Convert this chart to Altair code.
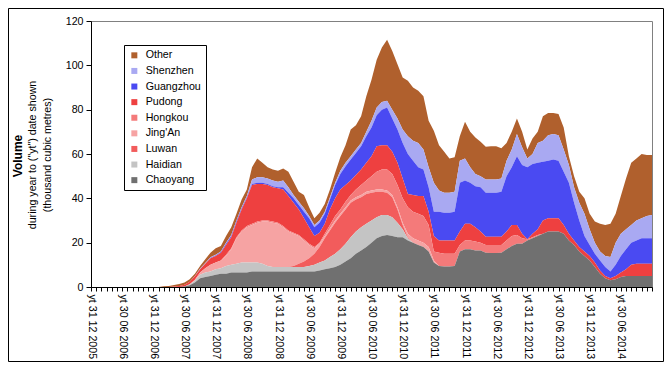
import altair as alt
import pandas as pd

# month index 0 = Dec 2005 ... 108 = Dec 2014
months = list(range(109))

x_labels = ["yt 31 12 2005", "yt 30 06 2006", "yt 31 12 2006", "yt 30 06 2007",
            "yt 31 12 2007", "yt 30 06 2008", "yt 31 12 2008", "yt 30 06 2009",
            "yt 31 12 2009", "yt 30 06 2010", "yt 31 12 2010", "yt 30 06 2011",
            "yt 31 12 2011", "yt 30 06 2012", "yt 31 12 2012", "yt 30 06 2013",
            "yt 31 12 2013", "yt 30 06 2014"]
y_ticks = [0, 20, 40, 60, 80, 100, 120]

Z14 = [0, 0, 0, 0, 0, 0, 0, 0, 0, 0, 0, 0, 0, 0]

chaoyang = Z14 + [
    0, 0, 0, 0, 0.2, 0.8, 2.0, 4.0, 4.5, 5,
    5.5, 6, 6, 6.5, 6.5, 6.5, 6.5, 7, 7, 7,
    7, 7, 7, 7, 7, 7, 7, 7, 7, 7,
    7.5, 8, 8.5, 9, 10, 11.5, 13, 15, 16.5, 18,
    20, 22, 23, 23.5, 23, 22.5, 22.5, 21, 20, 19,
    18, 16, 11, 9.5, 9.2, 9.2, 9.5, 16, 17, 17,
    16.5, 16.5, 15.5, 15.3, 15.3, 15.5, 17, 18.5, 19.5, 19.5,
    21, 22, 23, 24, 25, 25, 25, 24, 21, 19,
    16, 14, 12, 9, 6, 4, 3, 3.5, 4.5, 5,
    5, 5, 5, 5, 5]

haidian = Z14 + [
    0, 0, 0, 0, 0, 0.4, 0.8, 1.5, 2, 2,
    2.5, 2.5, 3.5, 3.5, 4, 4.5, 4.5, 4, 4, 3.5,
    2.5, 2, 2, 2, 2, 2, 2, 2, 2.5, 3,
    3.5, 4, 5, 6, 7, 8, 9.5, 10, 10.5, 10.5,
    10, 9.5, 9.5, 9, 8.5, 6.5, 3.5, 1, 0, 0,
    0, 0, 0, 0, 0, 0, 0, 0, 0, 0,
    0, 0, 0, 0, 0, 0, 0, 0, 0, 0,
    0, 0, 0, 0, 0, 0, 0, 0, 0, 0,
    0, 0, 0, 0, 0, 0, 0, 0, 0, 0,
    0, 0, 0, 0, 0]

luwan = Z14 + [
    0, 0, 0, 0, 0, 0, 0, 0, 0, 0,
    0, 0, 0, 0, 0, 0, 0, 0, 0, 0,
    0, 0, 0, 0, 0, 0.5, 1.5, 2.5, 3.5, 5,
    7, 10, 12, 14, 15, 15.5, 15.5, 14.5, 13.5, 13.5,
    12.5, 11.5, 10.5, 10, 9, 6, 2, 0.5, 0, 0,
    0, 0, 0, 0, 0, 0, 0, 0, 0, 0,
    0, 0, 0, 0, 0, 0, 0, 0, 0, 0,
    0, 0, 0, 0, 0, 0, 0, 0, 0, 0,
    0, 0, 0, 0, 0, 0, 0, 0, 0, 0,
    0, 0, 0, 0, 0]

jingan = Z14 + [
    0, 0, 0, 0, 0, 0, 0.5, 1, 2, 3,
    3, 3.5, 4.5, 7, 11.5, 14, 16, 17, 18, 19,
    20, 20, 19.5, 18, 16, 14.5, 12.5, 9.5, 6, 2.5,
    1.5, 1, 1, 1, 1, 1, 1, 1, 1, 1,
    1, 1, 1, 1, 1, 1, 1, 1.5, 2, 2,
    2, 2, 1, 0, 0, 0, 0, 0, 0, 0,
    0, 0, 0, 0, 0, 0, 0, 0, 0, 0,
    0, 0, 0, 0, 0, 0, 0, 0, 0, 0,
    0, 0, 0, 0, 0, 0, 0, 0, 0, 0,
    0, 0, 0, 0, 0]

hongkou = Z14 + [
    0, 0, 0, 0, 0, 0, 0, 0, 0, 0,
    0, 0, 0.5, 0.5, 0.5, 0.5, 0.5, 0.5, 0.5, 0.5,
    0.5, 0.5, 0.5, 0.5, 0.5, 0.5, 0.5, 0.5, 0.5, 0.5,
    0.5, 1, 1.5, 2, 2, 2.5, 2.5, 3.5, 4.5, 5,
    6.5, 8, 9, 9.5, 9.5, 10, 11, 12, 12, 12,
    12, 10, 4, 6, 5.8, 5.8, 5.5, 3, 4, 4,
    4, 3.5, 3.5, 3.7, 3.7, 3.5, 4, 4.5, 4, 2.5,
    0.5, 0.5, 0.5, 0, 0, 0, 0, 0, 0, 0,
    0, 0, 0, 0, 0, 0, 0, 0, 0, 0,
    0, 0, 0, 0, 0]

pudong = Z14 + [
    0, 0, 0.2, 0.5, 0.8, 1.2, 1.5, 1.5, 2, 3,
    3, 3.5, 4.5, 5, 6.5, 9.5, 12.5, 17.5, 17, 16.5,
    16, 15.5, 15.5, 16.5, 15.5, 13.5, 11.5, 9.5, 7.5, 5,
    4.5, 4.5, 7, 8, 9, 7.5, 6.5, 6.5, 7, 8,
    9, 11.5, 11, 11, 10, 10, 9, 6, 7.5, 8,
    9, 6, 7, 5.5, 6, 6, 6, 6, 7.5, 7.5,
    6.5, 5, 3.7, 3.7, 3.7, 3.7, 4, 5, 4.5, 2,
    0, 1.5, 2.5, 6, 6, 6, 6, 4, 3, 2,
    2, 2, 2, 2, 1.5, 1, 1, 1.5, 2, 3,
    5, 5.5, 5.5, 5.5, 5.5]

guangzhou = Z14 + [
    0, 0, 0, 0, 0, 0, 0, 0, 0, 0.2,
    0.2, 0.3, 0.5, 0.5, 0.7, 0.5, 0.5, 0.5, 0.5, 0.5,
    0.5, 0.5, 0.5, 1, 1.5, 2, 2, 3, 4, 4,
    4.5, 4.5, 4.5, 6, 7, 8.5, 9.5, 10, 10.5, 12,
    13, 14, 16, 17, 15, 15, 16, 18, 15.5, 13,
    12, 11, 11, 13, 12.5, 12.5, 13, 22, 19.5, 18.5,
    18.5, 20, 19.8, 19.8, 19.8, 20.3, 25, 26, 31, 31,
    32.5, 31.5, 30, 26.5, 26, 26.5, 26, 24, 23, 17,
    12, 7, 5, 4, 4.5, 4, 3, 5, 7.5, 9,
    10, 10.5, 11.5, 11.5, 11.5]

shenzhen = Z14 + [
    0, 0, 0, 0, 0, 0, 0.2, 0.3, 0.3, 0.2,
    0.3, 0.2, 0.5, 0.5, 0.3, 0.5, 0.5, 2, 2.5, 2.5,
    2.5, 2.5, 2.5, 3, 2.5, 1.5, 1.5, 1.5, 1, 1,
    1, 1, 1, 1, 1.5, 1.5, 1.5, 1.5, 1.5, 2,
    3, 3.5, 3.5, 3, 4, 5, 6, 8, 9, 11,
    9, 9, 13, 9.5, 9, 9, 9, 10, 10, 7,
    5.5, 5, 6, 6, 6, 6, 7, 8, 10, 8,
    4, 4.5, 9, 9.5, 11.5, 11.5, 11.5, 10, 8, 7,
    8, 10, 7, 5, 4, 5, 6.5, 10, 10, 9,
    8, 9, 9, 10, 10.5]

other = Z14 + [
    0.3, 0.5, 0.7, 0.8, 1.0, 1.1, 1.0, 1.2, 1.7, 2.1,
    3, 2.5, 3, 3.5, 3, 3.5, 3, 5.5, 8.5, 6.5,
    5, 5, 5, 5.5, 7, 6, 4.5, 6, 4, 3,
    3.5, 3.5, 3.5, 4.5, 6, 8, 12, 11, 12, 16,
    18.5, 21.5, 24.5, 27.5, 26.5, 24.5, 23.5, 25, 24, 23.5,
    24, 21, 23.5, 20.5, 18.5, 15.5, 15.5, 11, 16.5, 16,
    16.5, 15.5, 14.8, 15, 15, 13.6, 8, 8, 7, 7,
    4, 7, 5, 11, 10, 9.5, 9.5, 10, 4, 5,
    5, 7, 7, 9.5, 12.5, 14, 15, 13, 17, 23,
    28, 28, 29, 27.5, 27]

# legend order (top to bottom); stacking is the reverse (Chaoyang at the bottom)
series_names = ["Other", "Shenzhen", "Guangzhou", "Pudong", "Hongkou",
                "Jing'An", "Luwan", "Haidian", "Chaoyang"]
series_values = [other, shenzhen, guangzhou, pudong, hongkou,
                 jingan, luwan, haidian, chaoyang]
series_colors = ["#b0602d", "#a9a9f2", "#4a4af2", "#ee4040", "#f47a7a",
                 "#f6a3a3", "#f25c5c", "#c4c4c4", "#707070"]

rows = []
for k, (name, vals) in enumerate(zip(series_names, series_values)):
    for m, v in zip(months, vals):
        rows.append({"m": m, "series": name, "v": v, "rank": len(series_names) - 1 - k})
df = pd.DataFrame(rows)

label_expr = ("datum.value % 6 == 0 && datum.value < 108 ? "
              + "[" + ",".join("'" + s + "'" for s in x_labels) + "][datum.value / 6] : ''")

FS = 10.67

area = alt.Chart(df).mark_area(interpolate="linear").encode(
    x=alt.X("m:Q",
            scale=alt.Scale(domain=[0, 108], nice=False, zero=False),
            axis=alt.Axis(values=months, labelExpr=label_expr, labelAngle=90,
                          labelAlign="left", labelBaseline="middle",
                          labelOverlap=False, labelFlush=False, tickSize=4,
                          labelPadding=3, grid=False, title=None,
                          domainColor="black", tickColor="black",
                          labelColor="black", labelFontSize=FS)),
    y=alt.Y("v:Q", stack="zero",
            scale=alt.Scale(domain=[0, 120], nice=False),
            axis=alt.Axis(values=y_ticks, tickSize=5, labelPadding=3, grid=False,
                          title=None, domainColor="black", tickColor="black",
                          labelColor="black", labelFontSize=FS)),
    color=alt.Color("series:N",
                    scale=alt.Scale(domain=series_names, range=series_colors),
                    legend=alt.Legend(title=None, orient="none", legendX=33, legendY=24,
                                      direction="vertical", symbolType="square",
                                      symbolSize=36, symbolStrokeWidth=0,
                                      labelFontSize=FS, labelColor="black",
                                      labelOffset=6, rowPadding=3.6, padding=5,
                                      strokeColor="black", fillColor="white",
                                      cornerRadius=0)),
    order=alt.Order("rank:Q", sort="ascending"),
)

one = pd.DataFrame({"t": ["x"]})

title_bold = alt.Chart(one).mark_text(
    text="Volume", angle=270, fontSize=12, fontWeight="bold",
    align="center", baseline="middle", color="black"
).encode(x=alt.value(-73.5), y=alt.value(135))

title_l1 = alt.Chart(one).mark_text(
    text='during year to ("yt") date shown', angle=270, fontSize=FS,
    align="center", baseline="middle", color="black"
).encode(x=alt.value(-58), y=alt.value(134))

title_l2 = alt.Chart(one).mark_text(
    text="(thousand cubic metres)", angle=270, fontSize=FS,
    align="center", baseline="middle", color="black"
).encode(x=alt.value(-43.5), y=alt.value(134))

border = alt.Chart(one).mark_rect(
    fillOpacity=0, stroke="black", strokeWidth=1
).encode(x=alt.value(-82.5), x2=alt.value(572.5), y=alt.value(-12.5), y2=alt.value(340.5))

chart = alt.layer(area, title_bold, title_l1, title_l2, border).properties(
    width=561, height=266,
    padding={"left": 83, "top": 13, "right": 12, "bottom": 75},
    autosize=alt.AutoSizeParams(type="none"),
).configure(font="Liberation Sans").configure_view(stroke="#808080", strokeWidth=1)

chart.save("out.html", embed_options={"renderer": "svg", "actions": False})
